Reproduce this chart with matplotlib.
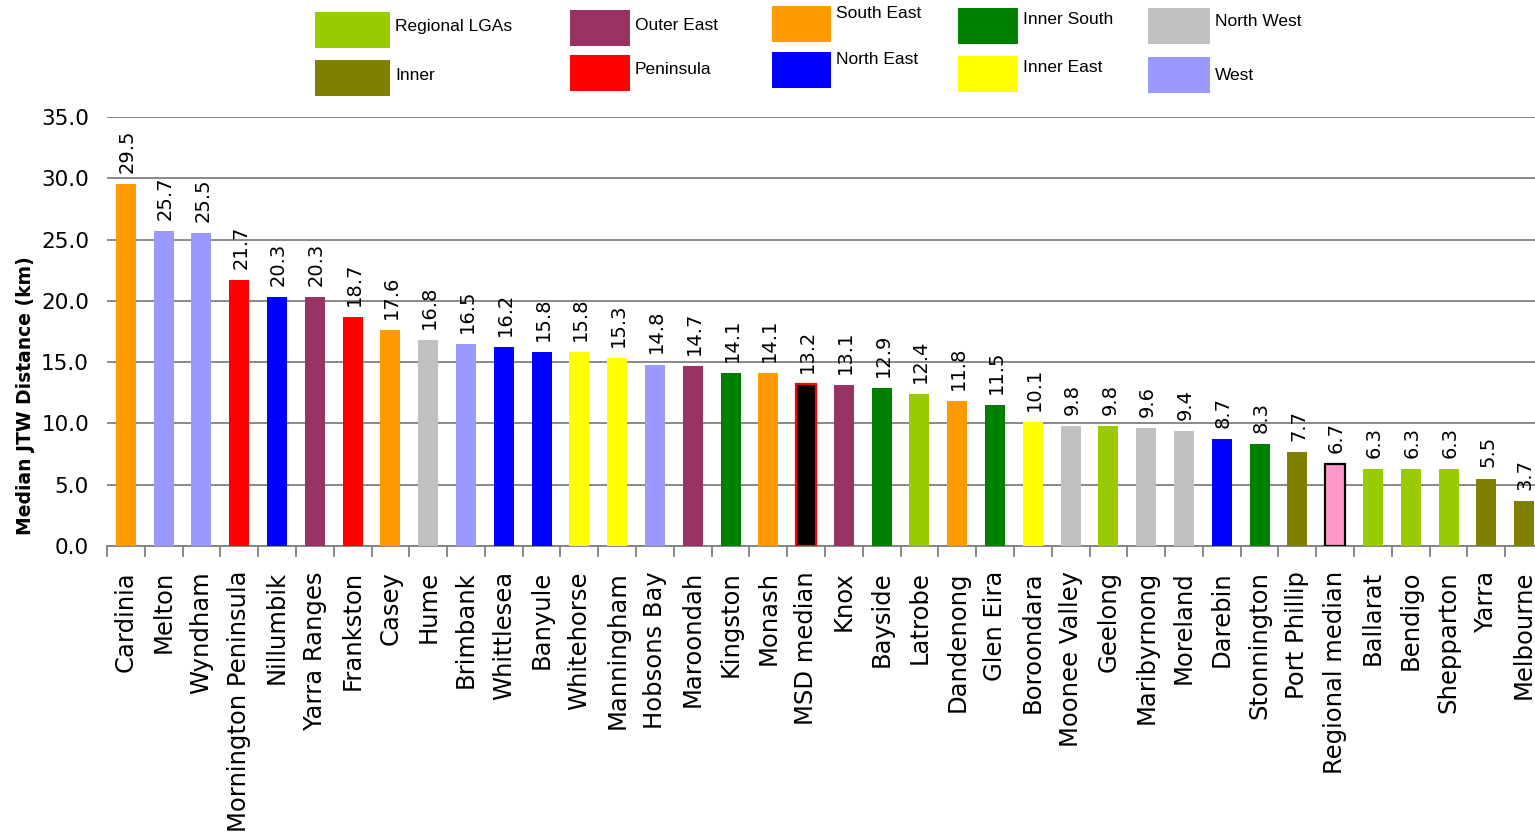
import matplotlib
matplotlib.use("Agg")
import matplotlib.pyplot as plt
from matplotlib.patches import Rectangle

# Median journey-to-work distance by LGA (km)
lgas = ["Cardinia", "Melton", "Wyndham", "Mornington Peninsula", "Nillumbik",
        "Yarra Ranges", "Frankston", "Casey", "Hume", "Brimbank", "Whittlesea",
        "Banyule", "Whitehorse", "Manningham", "Hobsons Bay", "Maroondah",
        "Kingston", "Monash", "MSD median", "Knox", "Bayside", "Latrobe",
        "Dandenong", "Glen Eira", "Boroondara", "Moonee Valley", "Geelong",
        "Maribyrnong", "Moreland", "Darebin", "Stonnington", "Port Phillip",
        "Regional median", "Ballarat", "Bendigo", "Shepparton", "Yarra",
        "Melbourne"]
distance_km = [29.5, 25.7, 25.5, 21.7, 20.3, 20.3, 18.7, 17.6, 16.8, 16.5,
               16.2, 15.8, 15.8, 15.3, 14.8, 14.7, 14.1, 14.1, 13.2, 13.1,
               12.9, 12.4, 11.8, 11.5, 10.1, 9.8, 9.8, 9.6, 9.4, 8.7, 8.3,
               7.7, 6.7, 6.3, 6.3, 6.3, 5.5, 3.7]
region = ["South East", "West", "West", "Peninsula", "North East",
          "Outer East", "Peninsula", "South East", "North West", "West",
          "North East", "North East", "Inner East", "Inner East", "West",
          "Outer East", "Inner South", "South East", "MSD median",
          "Outer East", "Inner South", "Regional LGAs", "South East",
          "Inner South", "Inner East", "North West", "Regional LGAs",
          "North West", "North West", "North East", "Inner South", "Inner",
          "Regional median", "Regional LGAs", "Regional LGAs",
          "Regional LGAs", "Inner", "Inner"]

region_colors = {
    "Regional LGAs": "#99CC00",
    "Inner": "#808000",
    "Outer East": "#993366",
    "Peninsula": "#FF0000",
    "South East": "#FF9900",
    "North East": "#0000FF",
    "Inner South": "#008000",
    "Inner East": "#FFFF00",
    "North West": "#C0C0C0",
    "West": "#9999FF",
    "MSD median": "#000000",
    "Regional median": "#FF99CC",
}
edge_colors = {"MSD median": "#FF0000", "Regional median": "#000000"}

W, H = 1535, 834
fig = plt.figure(figsize=(W / 100, H / 100), dpi=100)

# axes in pixel geometry: left 107, right ~1543 (runs off the right edge)
x0, x1, ytop, ybot = 107, 1543, 117, 546
ax = fig.add_axes([x0 / W, 1 - ybot / H, (x1 - x0) / W, (ybot - ytop) / H])

xs = list(range(len(lgas)))
for x, v, r in zip(xs, distance_km, region):
    ec = edge_colors.get(r, region_colors[r])
    lw = 1.6 if r in edge_colors else 0.0
    ax.bar(x, v, width=0.53, color=region_colors[r], edgecolor=ec,
           linewidth=lw, zorder=3)
    ax.annotate(f"{v:.1f}", (x, v), xytext=(1, 8), textcoords="offset points",
                rotation=90, ha="center", va="bottom", fontsize=14,
                family="DejaVu Sans", color="black", zorder=4)

ax.set_xlim(-0.5, len(lgas) - 0.5)
ax.set_ylim(0, 35)
ax.set_yticks([0, 5, 10, 15, 20, 25, 30, 35])
ax.set_yticklabels([f"{t:.1f}" for t in ax.get_yticks()], fontsize=15.5)
ax.yaxis.grid(True, color="#808080", linewidth=1.3, zorder=0)
ax.set_axisbelow(True)
ax.tick_params(axis="y", length=0, pad=13)

ax.set_xticks(xs)
ax.set_xticklabels(lgas, rotation=90, fontsize=17.5)
ax.set_xticks([x + 0.5 for x in [-1] + xs], minor=True)
ax.tick_params(axis="x", which="major", length=0, pad=18)
ax.tick_params(axis="x", which="minor", length=8, width=1.3,
               color="#808080", direction="out")

for s in ("left", "right", "top"):
    ax.spines[s].set_visible(False)
ax.spines["bottom"].set_color("#808080")
ax.spines["bottom"].set_linewidth(1.3)

ax.set_ylabel("Median JTW Distance (km)", fontsize=13.5, fontweight="bold")
ax.yaxis.set_label_coords(-0.050, 0.35)

# legend boxes laid out in two rows of five
legend_order = [["Regional LGAs", "Outer East", "South East", "Inner South",
                 "North West"],
                ["Inner", "Peninsula", "North East", "Inner East", "West"]]
col_boxes = [(315, 75), (570, 60), (772, 59), (958, 60), (1148, 62)]
row_tops = [[12, 60], [10, 55], [6, 52], [8, 56], [8, 57]]
text_dy = [[-3, -3], [-3, -3], [-10, -10], [-6, -6], [-5, 0]]
box_h = 36
for ci, (bx, bw) in enumerate(col_boxes):
    for ri in range(2):
        name = legend_order[ri][ci]
        top = row_tops[ci][ri]
        fig.patches.append(Rectangle((bx / W, 1 - (top + box_h) / H),
                                     bw / W, box_h / H,
                                     transform=fig.transFigure,
                                     facecolor=region_colors[name],
                                     edgecolor="none"))
        fig.text((bx + bw + 5) / W,
                 1 - (top + box_h / 2 + text_dy[ci][ri]) / H,
                 name, fontsize=12.5, family="Liberation Sans",
                 ha="left", va="center")

fig.savefig("out.png", dpi=100)
